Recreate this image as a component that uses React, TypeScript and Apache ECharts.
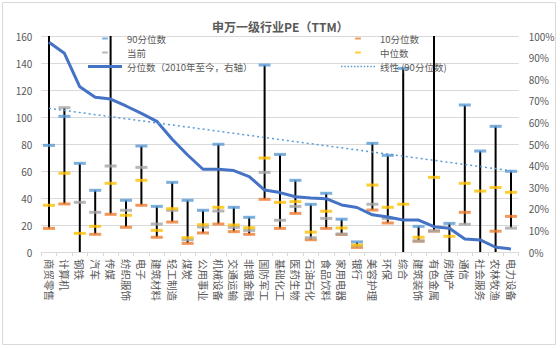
import React, { useEffect, useRef } from 'react';
import * as echarts from 'echarts';

const categories = ['商贸零售', '计算机', '钢铁', '汽车', '传媒', '纺织服饰', '电子', '建筑材料', '轻工制造', '煤炭', '公用事业', '机械设备', '交通运输', '非银金融', '国防军工', '基础化工', '医药生物', '石油石化', '食品饮料', '家用电器', '银行', '美容护理', '环保', '综合', '建筑装饰', '有色金属', '房地产', '通信', '社会服务', '农林牧渔', '电力设备'];

const p90 = [79, 100.5, 65.7, 45.7, 175, 38.3, 78.5, 33.8, 51.6, 38.3, 30.9, 79.8, 33.1, 25.7, 138.5, 72.3, 53.1, 35.3, 43.5, 24.3, 7.5, 80.5, 71.6, 136, 19, 175, 21.2, 108.9, 74.8, 93.1, 59.8];
const p10 = [17.5, 35.6, -10, 13.1, 27.9, 18.3, 34.6, 10.9, 22.2, 6.4, 14.1, 20.7, 15.1, 13.1, 39, 17.5, 28.6, 9.1, 17.5, 13.0, 3.4, 31.1, 21.5, -15, 8.0, 15.5, -12, 29.4, -25, 15.4, 26.4];
const current = [175, 106.9, 36.8, 29.4, 63.7, 30.9, 62.7, 20.7, 30.9, 9.1, 18.5, 30.4, 18.3, 16, 59, 23.5, 33.8, 10.6, 24.9, 13.3, 4.6, 35.4, 24.8, -5, 8.2, 15.6, -8, 20.5, -20, -20, 17.7];
const median = [34.6, 58.3, 13.8, 19, 50.9, 27.2, 53.1, 16, 32.1, 10.6, 20.2, 33.1, 20, 18, 69.6, 36.8, 37.3, 14.7, 30.2, 17.8, 5.1, 49.6, 33.1, 35.4, 10.9, 55.3, 11.6, 50.9, 45.1, 47.8, 44.2];
const percentile = [0.971, 0.92, 0.765, 0.716, 0.708, 0.676, 0.642, 0.605, 0.522, 0.449, 0.383, 0.383, 0.377, 0.349, 0.287, 0.275, 0.256, 0.25, 0.247, 0.218, 0.206, 0.172, 0.162, 0.148, 0.148, 0.117, 0.11, 0.06, 0.056, 0.022, 0.014];
// linear trendline of the 90th percentile: values at first and last category
const trendEnds = [106.4, 60.2];

const Y_MIN = 0;
const Y_MAX = 160;

export default function App() {
  const ref = useRef<HTMLDivElement>(null);
  useEffect(() => {
    document.body.style.margin = '0';
    const chart = echarts.init(ref.current as HTMLDivElement, null, { renderer: 'svg' });
    const font = '"Noto Sans CJK SC", "Noto Sans", sans-serif';
    const gray = '#595959';
    const BOX = 'M0,0h0.05v0.05h-0.05zM35.95,7.95h0.05v0.05h-0.05z';
    const DASH = 'path://' + BOX + 'M15,3h6v2h-6z';
    const THICK = 'path://' + BOX + 'M0,2.5h36v3h-36z';
    let dots = '';
    for (let x = 0; x < 36; x += 3.5) dots += 'M' + x + ',3.3h1.6v1.4h-1.6z';
    const DOTTED = 'path://' + BOX + dots;
    const hiLo = categories.map((c, i) => {
      const vals = [p90[i], p10[i], current[i], median[i]];
      return [i, Math.max(Math.min(...vals), Y_MIN), Math.min(Math.max(...vals), Y_MAX)];
    });
    const last = categories.length - 1;
    const trendData = categories.map((c, i) => (i === 0 ? trendEnds[0] : i === last ? trendEnds[1] : null));
    const markerSeries = (name: string, data: number[], color: string) => ({
      name,
      type: 'scatter',
      data,
      symbol: 'rect',
      symbolSize: [12, 3],
      itemStyle: { color },
      clip: true,
      z: 3,
    });
    const legendText = { fontSize: 9.5, color: gray, fontFamily: font, lineHeight: 12 };
    const legendBase = {
      orient: 'vertical',
      top: 32.5,
      padding: 0,
      itemWidth: 34,
      itemHeight: 12,
      itemGap: 2,
      textStyle: legendText,
    };
    chart.setOption({
      animation: false,
      textStyle: { fontFamily: font },
      title: {
        text: '申万一级行业PE（TTM）',
        left: 207,
        top: 15,
        textStyle: { fontSize: 12, fontWeight: 'bold', color: gray, fontFamily: font },
      },
      legend: [
        {
          ...legendBase,
          left: 88,
          data: [
            { name: '90分位数', icon: DASH },
            { name: '当前', icon: DASH },
            { name: '分位数（2010年至今，右轴）', icon: THICK },
          ],
        },
        {
          ...legendBase,
          left: 341,
          data: [
            { name: '10分位数', icon: DASH },
            { name: '中位数', icon: DASH },
            { name: '线性 (90分位数)', icon: DOTTED },
          ],
        },
      ],
      graphic: [
        {
          type: 'rect',
          shape: { x: 2.5, y: 2.5, width: 553, height: 342 },
          style: { fill: 'none', stroke: '#d9d9d9', lineWidth: 1 },
          silent: true,
        },
      ],
      grid: { left: 41.3, right: 41.3, top: 36, bottom: 96 },
      xAxis: {
        type: 'category',
        data: categories,
        boundaryGap: true,
        axisLine: { lineStyle: { color: '#d9d9d9' } },
        axisTick: { show: true, length: 4, lineStyle: { color: '#d9d9d9' } },
        axisLabel: { rotate: -90, interval: 0, fontSize: 10.5, color: gray, margin: 7, fontFamily: font },
      },
      yAxis: [
        {
          type: 'value',
          min: Y_MIN,
          max: Y_MAX,
          interval: 20,
          axisLine: { show: false },
          axisTick: { show: false },
          axisLabel: { fontSize: 10, color: gray, margin: 9, fontFamily: font },
          splitLine: { lineStyle: { color: '#d9d9d9' } },
        },
        {
          type: 'value',
          min: 0,
          max: 1,
          interval: 0.1,
          axisLine: { show: false },
          axisTick: { show: false },
          axisLabel: {
            fontSize: 10,
            color: gray,
            margin: 10,
            fontFamily: font,
            formatter: (v: number) => Math.round(v * 100) + '%',
          },
          splitLine: { show: false },
        },
      ],
      series: [
        {
          name: 'hilo',
          type: 'custom',
          data: hiLo,
          encode: { x: 0, y: [1, 2] },
          clip: true,
          z: 2,
          renderItem: (params: any, api: any) => {
            const lo = api.coord([api.value(0), api.value(1)]);
            const hi = api.coord([api.value(0), api.value(2)]);
            return {
              type: 'line',
              shape: { x1: lo[0], y1: lo[1], x2: hi[0], y2: hi[1] },
              style: { stroke: '#000000', lineWidth: 2 },
            };
          },
        },
        markerSeries('90分位数', p90, '#5B9BD5'),
        markerSeries('10分位数', p10, '#ED7D31'),
        markerSeries('当前', current, '#A5A5A5'),
        markerSeries('中位数', median, '#FFC000'),
        {
          name: '分位数（2010年至今，右轴）',
          type: 'line',
          yAxisIndex: 1,
          data: percentile,
          symbol: 'none',
          lineStyle: { color: '#4472C4', width: 3 },
          itemStyle: { color: '#4472C4' },
          z: 4,
        },
        {
          name: '线性 (90分位数)',
          type: 'line',
          data: trendData,
          connectNulls: true,
          symbol: 'none',
          lineStyle: { color: '#5B9BD5', width: 1.5, type: [2, 3] },
          itemStyle: { color: '#5B9BD5' },
          z: 4,
        },
      ],
    });
    return () => {
      chart.dispose();
    };
  }, []);
  return <div ref={ref} style={{ width: 560, height: 348 }} />;
}
